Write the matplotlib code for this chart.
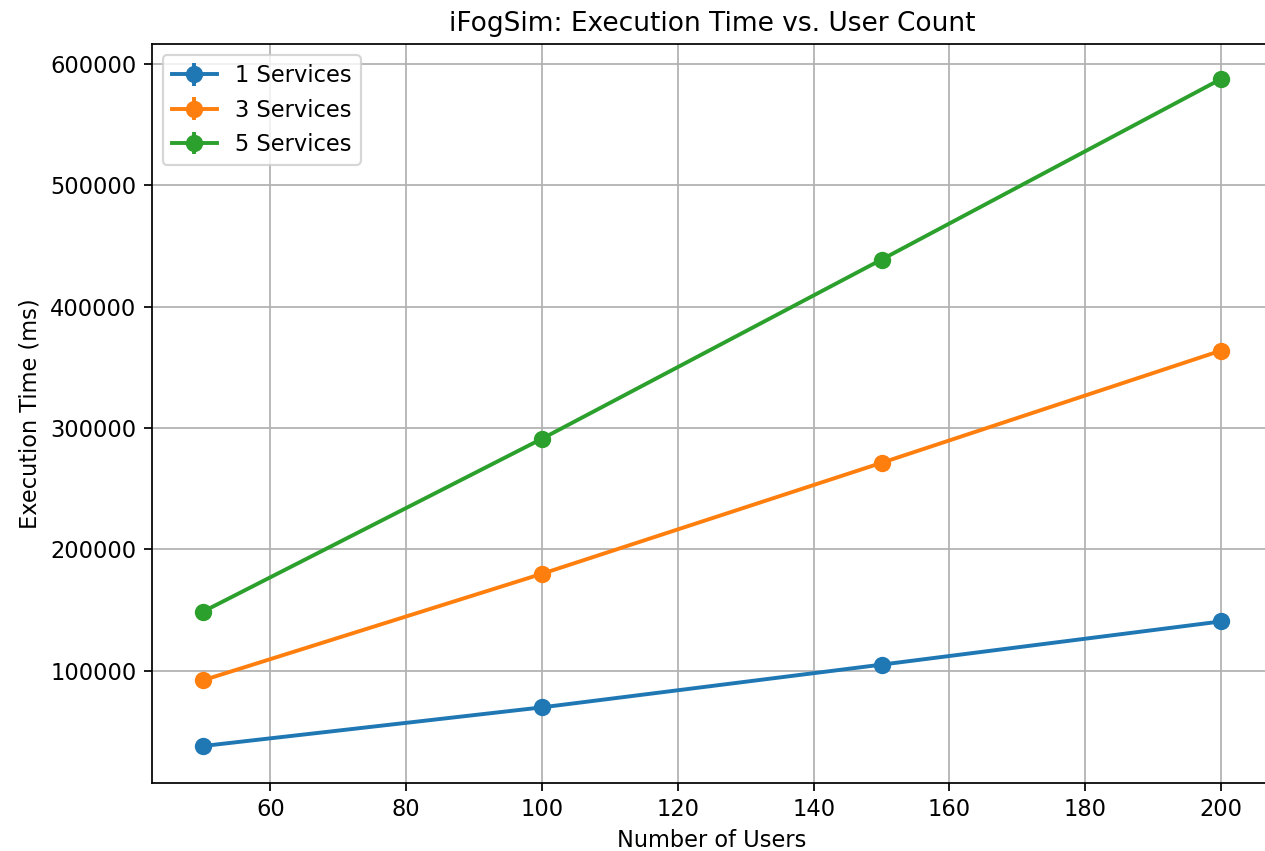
import numpy as np
import matplotlib
matplotlib.use("Agg")
import matplotlib.pyplot as plt

users = [50, 100, 150, 200]
services = ["1 Services", "3 Services", "5 Services"]

time_1 = [37900, 69800, 105000, 140600]
time_3 = [92000, 179900, 271300, 363800]
time_5 = [148500, 291200, 438800, 587600]

err_1 = [2500, 1800, 2200, 2000]
err_3 = [2000, 2400, 2100, 1800]
err_5 = [1500, 1900, 1700, 1200]

plt.rcParams['font.size'] = 10.4

fig = plt.figure(figsize=(1265 / 156, 851 / 156), dpi=156)
ax = fig.add_axes([0.1199, 0.0803, 0.8856, 0.868])

for label, times, errs in zip(services, [time_1, time_3, time_5], [err_1, err_3, err_5]):
    ax.errorbar(users, times, yerr=errs, marker='o', markersize=7,
                linewidth=1.8, capsize=0, label=label)

ax.set_title('iFogSim: Execution Time vs. User Count', fontsize=12.2)
ax.set_xlabel('Number of Users')
ax.set_ylabel('Execution Time (ms)')
ax.grid(True)
ax.legend(loc='upper left')

plt.savefig('out.png', dpi=156)
